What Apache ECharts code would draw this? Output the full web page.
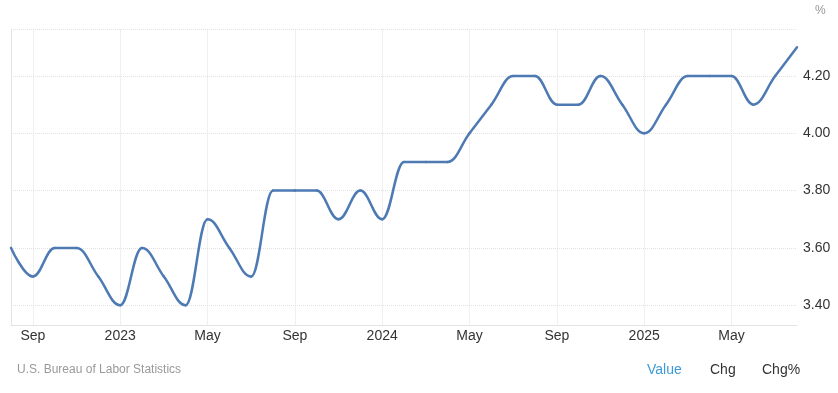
<!DOCTYPE html>
<html>
<head>
<meta charset="utf-8">
<script src="https://cdn.jsdelivr.net/npm/echarts@6/dist/echarts.min.js"></script>
<style>
html,body{margin:0;padding:0;background:#fff;}
#c{width:838px;height:393px;}
</style>
</head>
<body>
<div id="c"></div>
<script>
// ---- data ----
const months = [
  '2022-08','2022-09','2022-10','2022-11','2022-12',
  '2023-01','2023-02','2023-03','2023-04','2023-05','2023-06','2023-07','2023-08','2023-09','2023-10','2023-11','2023-12',
  '2024-01','2024-02','2024-03','2024-04','2024-05','2024-06','2024-07','2024-08','2024-09','2024-10','2024-11','2024-12',
  '2025-01','2025-02','2025-03','2025-04','2025-05','2025-06','2025-07','2025-08'
];
const values = [
  3.6,3.5,3.6,3.6,3.5,
  3.4,3.6,3.5,3.4,3.7,3.6,3.5,3.8,3.8,3.8,3.7,3.8,
  3.7,3.9,3.9,3.9,4.0,4.1,4.2,4.2,4.1,4.1,4.2,4.1,
  4.0,4.1,4.2,4.2,4.2,4.1,4.2,4.3
];
const xTickMonths = ['2022-09','2023-01','2023-05','2023-09','2024-01','2024-05','2024-09','2025-01','2025-05'];
const xTickLabels = ['Sep','2023','May','Sep','2024','May','Sep','2025','May'];
const yTicks = [3.4, 3.6, 3.8, 4.0, 4.2];
const yMin = 3.331, yMax = 4.363;

const xTickIdx = xTickMonths.map(m => months.indexOf(m));
const seriesData = values.map((v, i) => [i, v]);

// Highcharts-style spline control points
function ctrl(pts, i) {
  const n = pts.length;
  const px = pts[i][0], py = pts[i][1];
  if (i === 0 || i === n - 1) return {lx: px, ly: py, rx: px, ry: py};
  const sm = 1.5, den = sm + 1;
  const lastX = pts[i-1][0], lastY = pts[i-1][1];
  const nextX = pts[i+1][0], nextY = pts[i+1][1];
  let lx = (sm * px + lastX) / den, ly = (sm * py + lastY) / den;
  let rx = (sm * px + nextX) / den, ry = (sm * py + nextY) / den;
  if (rx !== lx) {
    const corr = ((ry - ly) * (rx - px)) / (rx - lx) + py - ry;
    ly += corr; ry += corr;
  }
  if (ly > lastY && ly > py) { ly = Math.max(lastY, py); ry = 2 * py - ly; }
  else if (ly < lastY && ly < py) { ly = Math.min(lastY, py); ry = 2 * py - ly; }
  if (ry > nextY && ry > py) { ry = Math.max(nextY, py); ly = 2 * py - ry; }
  else if (ry < nextY && ry < py) { ry = Math.min(nextY, py); ly = 2 * py - ry; }
  return {lx, ly, rx, ry};
}

function renderItem(params, api) {
  const i = params.dataIndex;
  if (i === 0) return null;
  const pts = values.map((v, k) => api.coord([k, v]));
  const a = ctrl(pts, i - 1), b = ctrl(pts, i);
  return {
    type: 'bezierCurve',
    shape: {
      x1: pts[i-1][0], y1: pts[i-1][1],
      x2: pts[i][0], y2: pts[i][1],
      cpx1: a.rx, cpy1: a.ry,
      cpx2: b.lx, cpy2: b.ly
    },
    style: {stroke: '#4e7ab3', lineWidth: 2.5, fill: 'none', lineCap: 'round'}
  };
}

const chart = echarts.init(document.getElementById('c'), null, {renderer: 'canvas'});
const gridColor = '#e2e2e2';
const ff = '"Liberation Sans", Arial, sans-serif';
chart.setOption({
  animation: false,
  backgroundColor: '#ffffff',
  textStyle: {fontFamily: ff},
  grid: {left: 11, right: 41, top: 29.3, bottom: 68, containLabel: false},
  xAxis: {
    type: 'value',
    min: 0,
    max: months.length - 1,
    axisLine: {show: true, lineStyle: {color: '#e3e3e3', width: 1}},
    axisTick: {show: false, customValues: xTickIdx},
    axisLabel: {
      customValues: xTickIdx,
      formatter: v => xTickLabels[xTickIdx.indexOf(Math.round(v))] || '',
      color: '#333', fontSize: 14, margin: 4, fontFamily: ff
    },
    splitLine: {show: true, lineStyle: {color: gridColor, type: 'dotted', width: 1}}
  },
  yAxis: [
    {
      type: 'value',
      position: 'right',
      min: yMin, max: yMax,
      axisLine: {show: true, lineStyle: {color: '#e3e3e3', width: 1}},
      axisTick: {show: true, inside: false, length: 8, customValues: yTicks.concat([yMax]),
                 lineStyle: {color: gridColor, type: 'dotted', width: 1}},
      axisLabel: {
        customValues: yTicks,
        formatter: v => v.toFixed(2),
        color: '#333', fontSize: 14, margin: 6, fontFamily: ff
      },
      splitLine: {show: true, lineStyle: {color: gridColor, type: 'dotted', width: 1}}
    },
    {
      type: 'value',
      position: 'left',
      min: yMin, max: yMax,
      axisLine: {show: true, lineStyle: {color: '#e3e3e3', width: 1}},
      axisTick: {show: false},
      axisLabel: {show: false},
      splitLine: {show: false}
    }
  ],
  series: [{
    type: 'custom',
    name: 'Unemployment Rate',
    renderItem: renderItem,
    data: seriesData,
    encode: {x: 0, y: 1},
    clip: false,
    silent: true
  }],
  graphic: [
    {type: 'text', left: 815, top: 5, style: {text: '%', fill: '#999', fontSize: 12, fontFamily: ff}},
    {type: 'text', left: 17, top: 364, style: {text: 'U.S. Bureau of Labor Statistics', fill: '#999', fontSize: 12, fontFamily: ff}},
    {type: 'text', left: 647, top: 363, style: {text: 'Value', fill: '#3d9ad6', fontSize: 14, fontFamily: ff}},
    {type: 'text', left: 710, top: 363, style: {text: 'Chg', fill: '#333', fontSize: 14, fontFamily: ff}},
    {type: 'text', left: 762, top: 363, style: {text: 'Chg%', fill: '#333', fontSize: 14, fontFamily: ff}}
  ]
});
</script>
</body>
</html>
